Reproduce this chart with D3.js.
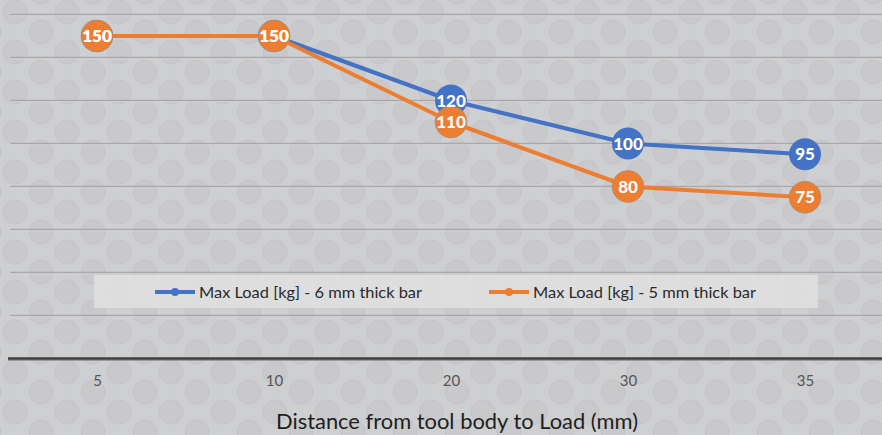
<!DOCTYPE html>
<html><head><meta charset="utf-8">
<script src="https://cdn.jsdelivr.net/npm/d3@7/dist/d3.min.js"></script>
<style>html,body{margin:0;padding:0;background:#cdcdcf;}svg{display:block;}</style>
</head><body>
<svg id="chart" width="882" height="435"></svg>
<script>
const categories = ["5", "10", "20", "30", "35"];
const series6mm = [150, 150, 120, 100, 95];
const series5mm = [150, 150, 110, 80, 75];
const seriesNames = ["Max Load [kg] - 6 mm thick bar", "Max Load [kg] - 5 mm thick bar"];
const yTicks = [0, 20, 40, 60, 80, 100, 120, 140, 160];
const xTitle = "Distance from tool body to Load (mm)";

const W = 882, H = 435;
const svg = d3.select("#chart");
const FONT = "Lato, 'Open Sans', sans-serif";

// background pattern
const defs = svg.append("defs");
const pat = defs.append("pattern").attr("id", "dots").attr("patternUnits", "userSpaceOnUse")
  .attr("width", 52).attr("height", 40).attr("x", 2).attr("y", 2);
pat.append("rect").attr("width", 52).attr("height", 40).attr("fill", "#cecfd0");
const base = [[13, 10], [39, 30]];
for (const [cx, cy] of base) for (const dx of [-52, 0, 52]) for (const dy of [-40, 0, 40]) {
  pat.append("circle").attr("cx", cx + dx).attr("cy", cy + dy).attr("r", 12)
    .attr("fill", "#c9c9cb").attr("stroke", "#c2c2c4").attr("stroke-width", 0.8);
}
svg.append("rect").attr("width", W).attr("height", H).attr("fill", "url(#dots)");

const x = d3.scalePoint().domain(categories).range([97, 805]);
const y = d3.scaleLinear().domain([0, 160]).range([358.5, 14.5]);

// gridlines
const grid = svg.append("g");
yTicks.filter(t => t > 0).forEach(t => {
  grid.append("line").attr("x1", 10).attr("x2", W).attr("y1", y(t) + 1.2).attr("y2", y(t) + 1.2)
    .attr("stroke", "#dadadc").attr("stroke-width", 1);
  grid.append("line").attr("x1", 10).attr("x2", W).attr("y1", y(t)).attr("y2", y(t))
    .attr("stroke", "#a9a9ab").attr("stroke-width", 1.5);
});

// x axis
const xAxis = d3.axisBottom(x).tickSize(0).tickPadding(17);
const gx = svg.append("g").attr("transform", `translate(0,${y(0)})`).call(xAxis);
gx.select(".domain").remove();
gx.append("line").attr("x1", 8).attr("x2", W).attr("y1", 1.6).attr("y2", 1.6).attr("stroke", "#8a8a8c").attr("stroke-width", 1.2);
gx.append("line").attr("x1", 8).attr("x2", W).attr("y1", 0).attr("y2", 0).attr("stroke", "#3f3f3f").attr("stroke-width", 2.4);
gx.selectAll(".tick text").attr("font-family", FONT).attr("font-size", 15).attr("fill", "#555");

svg.append("text").attr("x", 457).attr("y", 429).attr("text-anchor", "middle")
  .attr("font-family", FONT).attr("font-size", 21).attr("fill", "#1e1e1e")
  .attr("textLength", 362).attr("lengthAdjust", "spacingAndGlyphs").text(xTitle);

// legend box
svg.append("rect").attr("x", 94).attr("y", 275).attr("width", 724).attr("height", 33)
  .attr("fill", "#e0e0e2").attr("fill-opacity", 0.85);

const data = [
  {name: seriesNames[0], values: series6mm, color: "#4472C4", stroke: "none"},
  {name: seriesNames[1], values: series5mm, color: "#ED7D31", stroke: "#8f8f8f"}
];

const line = d3.line().x((d, i) => x(categories[i])).y(d => y(d));
data.forEach(s => {
  svg.append("path").datum(s.values).attr("d", line).attr("fill", "none")
    .attr("stroke", s.color).attr("stroke-width", 4).attr("stroke-linejoin", "round");
  svg.append("g").selectAll("circle").data(s.values).join("circle")
    .attr("cx", (d, i) => x(categories[i])).attr("cy", d => y(d)).attr("r", 16)
    .attr("fill", s.color).attr("stroke", s.stroke).attr("stroke-width", 0.8).attr("stroke-opacity", 0.7);
});
data.forEach(s => {
  svg.append("g").selectAll("text").data(s.values).join("text")
    .attr("x", (d, i) => x(categories[i])).attr("y", d => y(d)).attr("dy", "0.36em")
    .attr("text-anchor", "middle").attr("font-family", FONT).attr("font-weight", 900)
    .attr("font-size", 17).attr("fill", "#fff").text(d => d);
});

// legend items
const legX = [155, 489];
data.forEach((s, i) => {
  const g = svg.append("g").attr("transform", `translate(${legX[i]},292)`);
  g.append("line").attr("x1", 0).attr("x2", 40).attr("stroke", s.color).attr("stroke-width", 4);
  g.append("circle").attr("cx", 20).attr("r", 4).attr("fill", s.color);
  const t = g.append("text").attr("x", 44).attr("dy", "0.35em").attr("font-family", FONT)
    .attr("font-size", 16).attr("fill", "#2a2a2a").text(s.name);
  t.attr("textLength", 223).attr("lengthAdjust", "spacingAndGlyphs");
});
</script>
</body></html>
